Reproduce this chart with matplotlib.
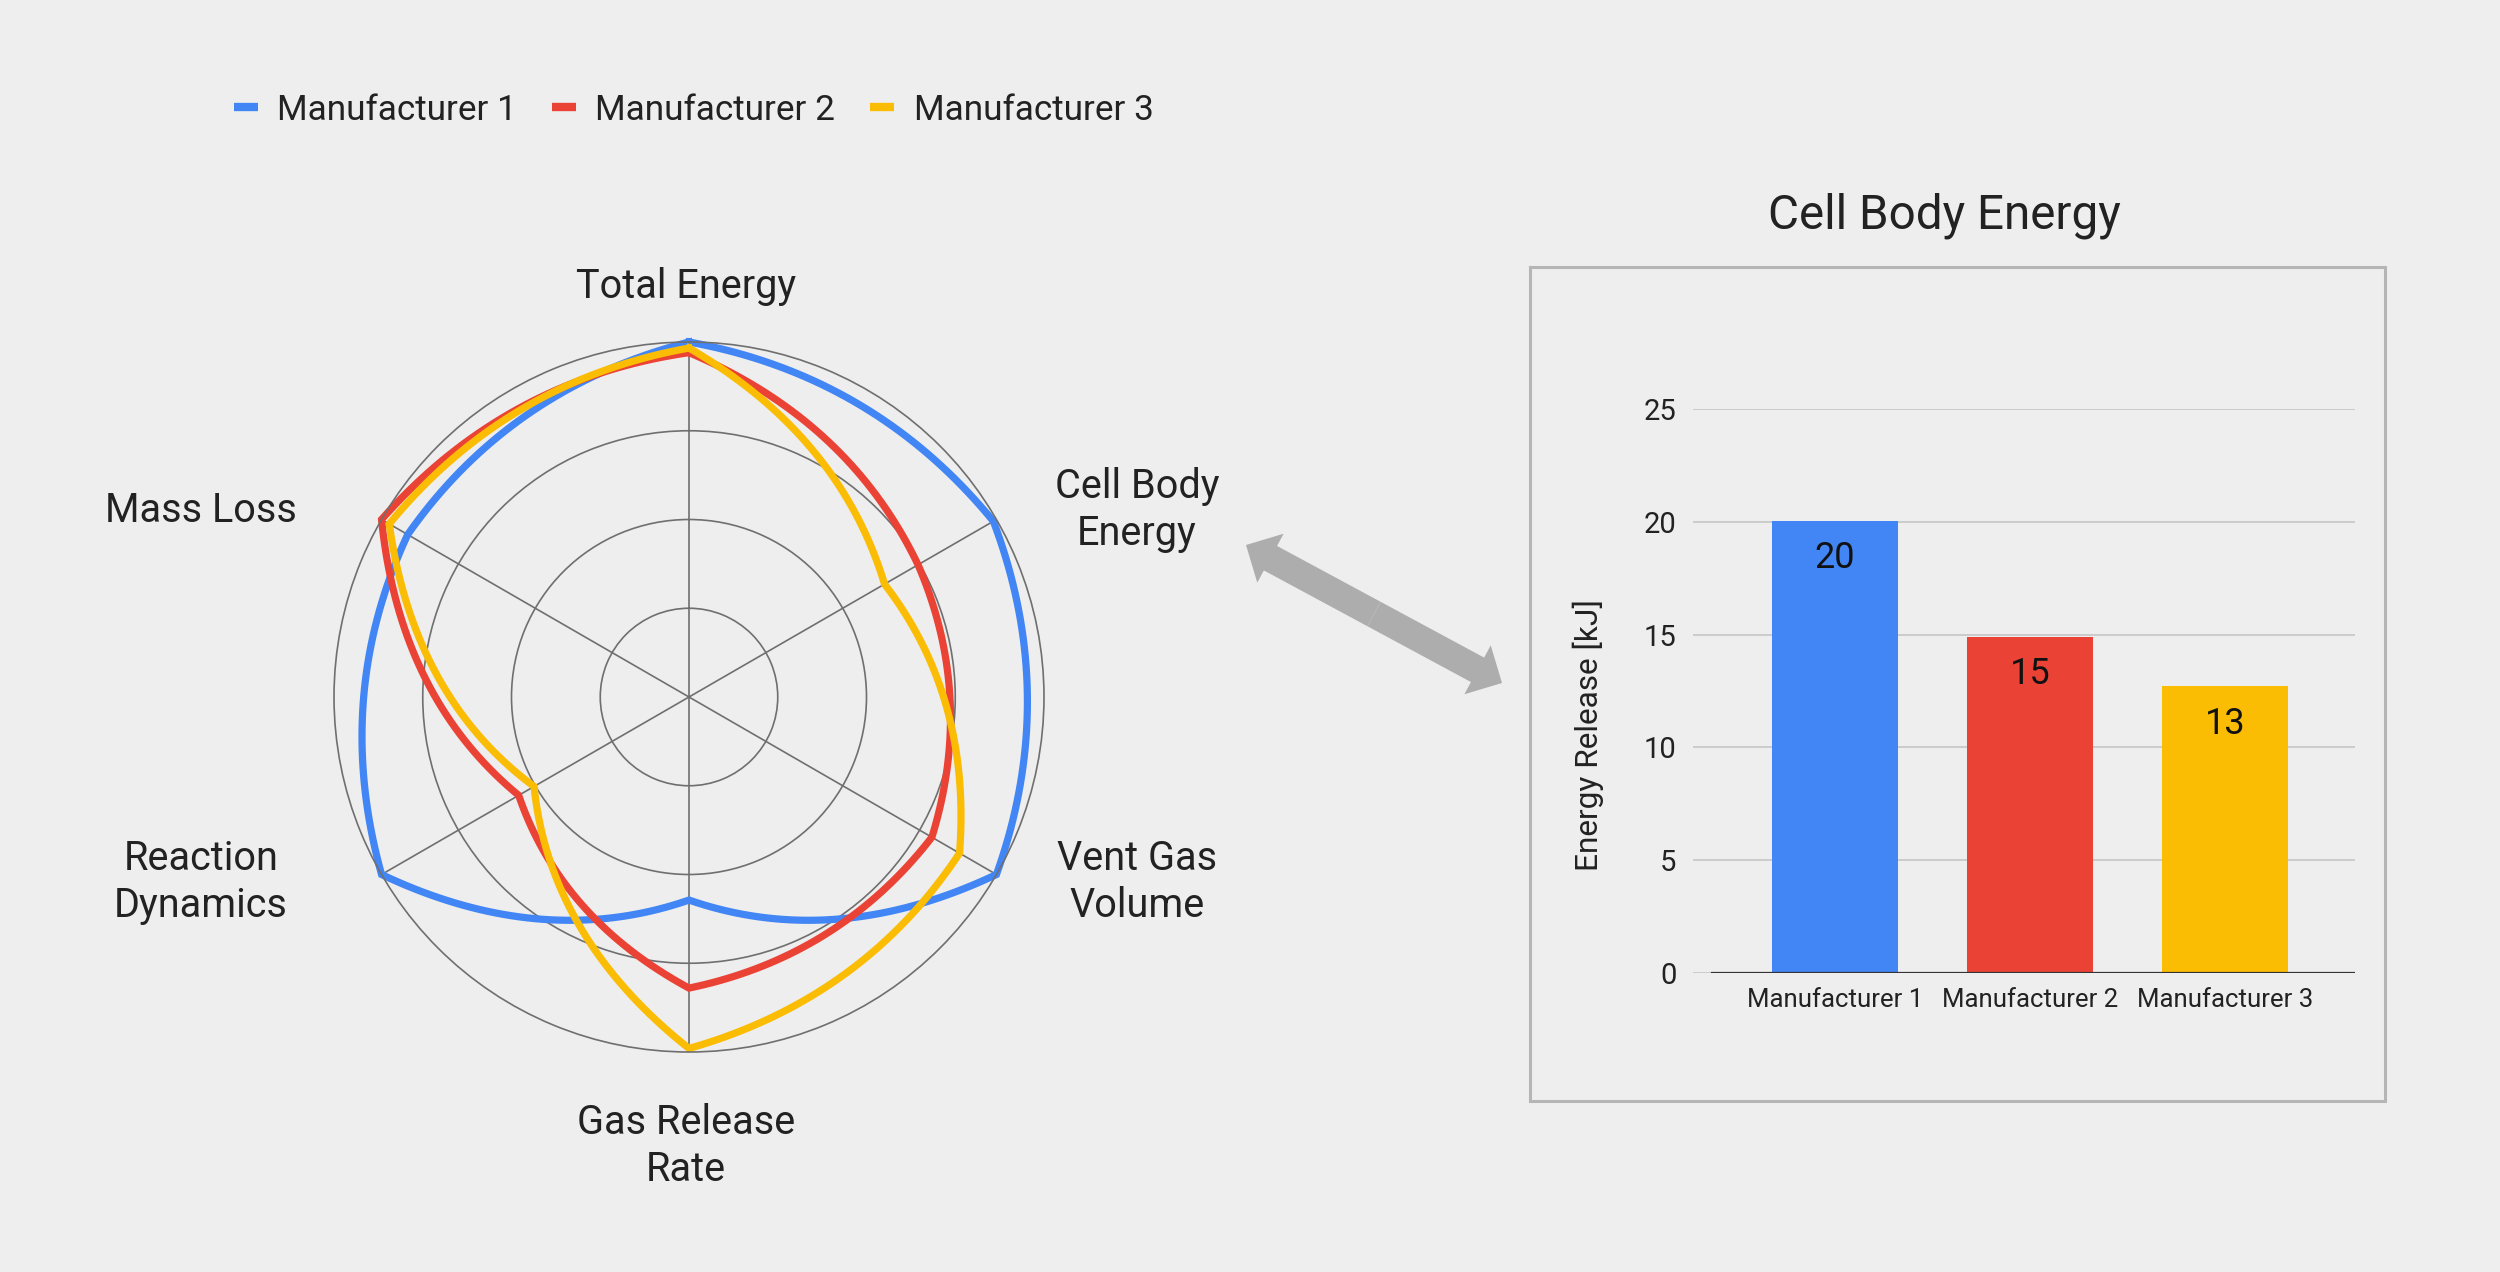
import numpy as np
import matplotlib
matplotlib.use('Agg')
import matplotlib.pyplot as plt
from matplotlib.lines import Line2D
from matplotlib.patches import Rectangle, FancyArrowPatch

plt.rcParams['font.family'] = ['Roboto', 'DejaVu Sans']

# radar data (fraction of outer ring), clockwise from top
categories = ['Total Energy', 'Cell Body\nEnergy', 'Vent Gas\nVolume',
              'Gas Release\nRate', 'Reaction\nDynamics', 'Mass Loss']
manufacturer_1 = [1.00, 0.99, 1.00, 0.572, 1.00, 0.915]
manufacturer_2 = [0.97, 0.745, 0.79, 0.82, 0.554, 1.00]
manufacturer_3 = [0.983, 0.636, 0.88, 0.99, 0.504, 0.975]
series_names = ['Manufacturer 1', 'Manufacturer 2', 'Manufacturer 3']

# bar data
bar_labels = ['Manufacturer 1', 'Manufacturer 2', 'Manufacturer 3']
cell_body_energy = [20.05, 14.9, 12.7]
y_ticks = [0, 5, 10, 15, 20, 25]

colors = ['#4285F4', '#EA4335', '#FBBC04']
bg = '#eeeeee'
W, H = 2500, 1272

fig = plt.figure(figsize=(W / 100, H / 100), dpi=100, facecolor=bg)


def fx(px):
    return px / W


def fy(py):
    return 1 - py / H


# ---- radar ----
cx, cy, R = 689, 697, 355
ax = fig.add_axes([fx(cx - R), fy(cy + R), 2 * R / W, 2 * R / H], projection='polar')
ax.set_facecolor('none')
ax.set_theta_offset(np.pi / 2)
ax.set_theta_direction(-1)
ax.set_ylim(0, 1)
n = len(categories)
angles = np.arange(n) * 2 * np.pi / n
ax.set_xticks(angles)
ax.set_xticklabels([])
ax.set_yticks([0.25, 0.5, 0.75])
ax.set_yticklabels([])
ax.grid(True, color='#6f6f6f', lw=1.2)
ax.spines['polar'].set_color('#6f6f6f')
ax.spines['polar'].set_linewidth(1.2)


def curved_path(vals, k=1.05, steps=40):
    # each segment is a quadratic curve bowed outward, like the sheets radar
    th_all, r_all = [], []
    t = np.linspace(0, 1, steps)
    for i in range(n):
        a0, a1 = angles[i], angles[i] + 2 * np.pi / n
        r0, r1 = vals[i], vals[(i + 1) % n]
        am = (a0 + a1) / 2
        rc = k * (r0 + r1) / 2
        p0 = np.array([r0 * np.cos(a0), r0 * np.sin(a0)])
        p2 = np.array([r1 * np.cos(a1), r1 * np.sin(a1)])
        pc = np.array([rc * np.cos(am), rc * np.sin(am)])
        pts = ((1 - t) ** 2)[:, None] * p0 + (2 * (1 - t) * t)[:, None] * pc + (t ** 2)[:, None] * p2
        th_all.append(np.arctan2(pts[:, 1], pts[:, 0]))
        r_all.append(np.hypot(pts[:, 0], pts[:, 1]))
    th = np.unwrap(np.concatenate(th_all))
    return th, np.concatenate(r_all)


for vals, c in zip([manufacturer_1, manufacturer_2, manufacturer_3], colors):
    th, r = curved_path(vals)
    ax.plot(th, r, color=c, lw=5.2, clip_on=False, solid_joinstyle='miter')

label_pos = [(686, 287), (1137, 510), (1137, 882), (686, 1146), (201, 882), (201, 510)]
for lab, (px, py) in zip(categories, label_pos):
    fig.text(fx(px), fy(py), lab, fontsize=28.5, color='#222222', ha='center', va='center',
             multialignment='center', linespacing=1.25)

handles = [Line2D([], [], color=c, lw=6, solid_capstyle='butt') for c in colors]
fig.legend(handles, series_names, loc='center left', bbox_to_anchor=(fx(234), fy(110)),
           ncol=3, frameon=False, fontsize=25.3, handlelength=0.68, handletextpad=0.55,
           columnspacing=1.0, borderpad=0, borderaxespad=0, labelcolor='#222222')

# ---- arrow ----
mid = (fx((1246 + 1502) / 2), fy((545 + 683) / 2))
for end in [(fx(1246), fy(545)), (fx(1502), fy(683))]:
    fig.add_artist(FancyArrowPatch(mid, end, transform=fig.transFigure,
                                   arrowstyle='simple,head_width=40,head_length=20,tail_width=20',
                                   color='#adadad', lw=0, shrinkA=0, shrinkB=0))

# ---- bar chart ----
fig.add_artist(Rectangle((fx(1530), fy(1101)), (2385 - 1530) / W, (1101 - 267) / H,
                         transform=fig.transFigure, fill=False, ec='#b5b5b5', lw=2.2))
fig.text(fx(1944), fy(216), 'Cell Body Energy', fontsize=34.3, color='#222222', ha='center', va='center')

bx = fig.add_axes([fx(1693), fy(973), 662 / W, 564 / H])
bx.set_facecolor('none')
x = np.arange(len(bar_labels))
bx.set_xlim(-0.727, 2.667)
bx.set_ylim(0, 25)
for yv in y_ticks:
    bx.axhline(yv, color='#cccccc', lw=1.4, zorder=0)
bars = bx.bar(x, cell_body_energy, width=0.644, color=colors, zorder=2)
bx.axhline(0, xmin=19 / 662, color='#333333', lw=1.6, zorder=3)
for b, v in zip(bars, cell_body_energy):
    bx.annotate(str(int(round(v))), (b.get_x() + b.get_width() / 2, v), xytext=(0, -27),
                textcoords='offset points', ha='center', va='center', fontsize=26, color='#111111')
bx.set_yticks(y_ticks)
bx.set_xticks(x)
bx.set_xticklabels(bar_labels, fontsize=18.5, color='#222222')
bx.tick_params(axis='y', length=0, pad=12, labelsize=21, labelcolor='#222222')
bx.tick_params(axis='x', length=0, pad=11)
for s in bx.spines.values():
    s.set_visible(False)
fig.text(fx(1588), fy(735), 'Energy Release [kJ]', rotation=90, fontsize=22.8, color='#222222',
         ha='center', va='center')

fig.savefig('out.png', dpi=100, facecolor=bg)
